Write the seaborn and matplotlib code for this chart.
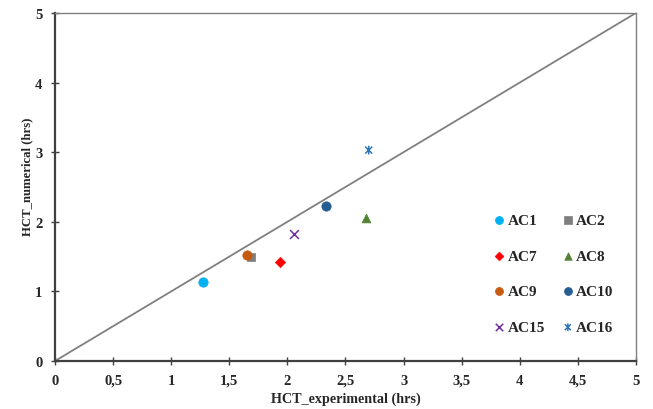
import numpy as np
import matplotlib
matplotlib.use('Agg')
import matplotlib.pyplot as plt
from matplotlib.path import Path
from matplotlib.ticker import FuncFormatter
import seaborn as sns

# Datos (HCT experimental vs numérico, en horas)
muestras = ['AC1', 'AC2', 'AC7', 'AC8', 'AC9', 'AC10', 'AC15', 'AC16']
hct_experimental = [1.27, 1.69, 1.94, 2.68, 1.65, 2.33, 2.06, 2.70]
hct_numerico = [1.13, 1.50, 1.42, 2.05, 1.53, 2.23, 1.83, 3.03]
colores = ['#00B0F0', '#7F7F7F', '#FF0000', '#548235', '#C55A11', '#255E91', '#7030A0', '#2E75B6']
linea_ideal = [0, 5]

# marcador tipo "estrella" de Excel: x + línea vertical
estrella = Path([(-1, -1), (1, 1), (-1, 1), (1, -1), (0, -1.25), (0, 1.25)],
                [Path.MOVETO, Path.LINETO, Path.MOVETO, Path.LINETO, Path.MOVETO, Path.LINETO])
marcadores = ['o', 's', 'D', '^', 'o', 'o', 'x', estrella]
tamanos = [45, 38, 28, 40, 45, 45, 40, 40]

sns.set_theme(style='white')
plt.rcParams['font.family'] = ['Liberation Serif', 'DejaVu Serif']
plt.rcParams['font.weight'] = 'bold'

fig = plt.figure(figsize=(6.53, 4.10), dpi=100)
ax = fig.add_axes([0.0842, 0.117, 0.8897, 0.849])

# línea 1:1
ax.plot(linea_ideal, linea_ideal, color='#808080', lw=1.3, zorder=1)

for m, x, y, c, mk, s in zip(muestras, hct_experimental, hct_numerico, colores, marcadores, tamanos):
    if mk == 'x':
        sns.scatterplot(x=[x], y=[y], ax=ax, marker=mk, color=c,
                        s=s, linewidth=1.1, label=m, zorder=3)
    elif isinstance(mk, Path):
        sns.scatterplot(x=[x], y=[y], ax=ax, marker=mk, color=c, edgecolor=c,
                        facecolor='none', s=s, linewidth=1.1, label=m, zorder=3)
    else:
        sns.scatterplot(x=[x], y=[y], ax=ax, marker=mk, color=c, edgecolor=c,
                        s=s, label=m, zorder=3)

ax.set_xlim(0, 5)
ax.set_ylim(0, 5)
ax.set_xticks(np.arange(0, 5.01, 0.5))
ax.set_yticks(np.arange(0, 5.01, 1))
ax.xaxis.set_major_formatter(FuncFormatter(lambda v, p: ('%g' % v).replace('.', ',')))
ax.tick_params(axis='both', direction='inout', length=6, width=1, color='#404040',
               labelsize=10.5, bottom=True, left=True)
ax.tick_params(axis='x', pad=6)
ax.tick_params(axis='y', pad=6)
for lab in ax.get_xticklabels() + ax.get_yticklabels():
    lab.set_fontweight('bold')

for lado in ['left', 'bottom']:
    ax.spines[lado].set_color('#404040')
    ax.spines[lado].set_linewidth(1.6)
for lado in ['top', 'right']:
    ax.spines[lado].set_color('#808080')
    ax.spines[lado].set_linewidth(1.0)

ax.set_xlabel('HCT_experimental (hrs)', fontsize=10.2, fontweight='bold')
ax.set_ylabel('HCT_numerical (hrs)', fontsize=9.2, fontweight='bold')
ax.xaxis.set_label_coords(0.5, -0.088)
ax.yaxis.set_label_coords(-0.037, 0.532)

# leyenda en dos columnas, ordenada por filas
handles, labels = ax.get_legend_handles_labels()
orden = [0, 2, 4, 6, 1, 3, 5, 7]
ax.legend([handles[i] for i in orden], [labels[i] for i in orden], ncol=2,
          frameon=False, loc='upper left', bbox_to_anchor=(0.748, 0.493),
          bbox_transform=fig.transFigure, prop={'size': 11, 'weight': 'bold'},
          handlelength=0.6, handletextpad=0.25, columnspacing=1.2, labelspacing=1.45,
          borderaxespad=0, markerscale=0.85)

plt.savefig('out.png', dpi=100)
plt.close()
